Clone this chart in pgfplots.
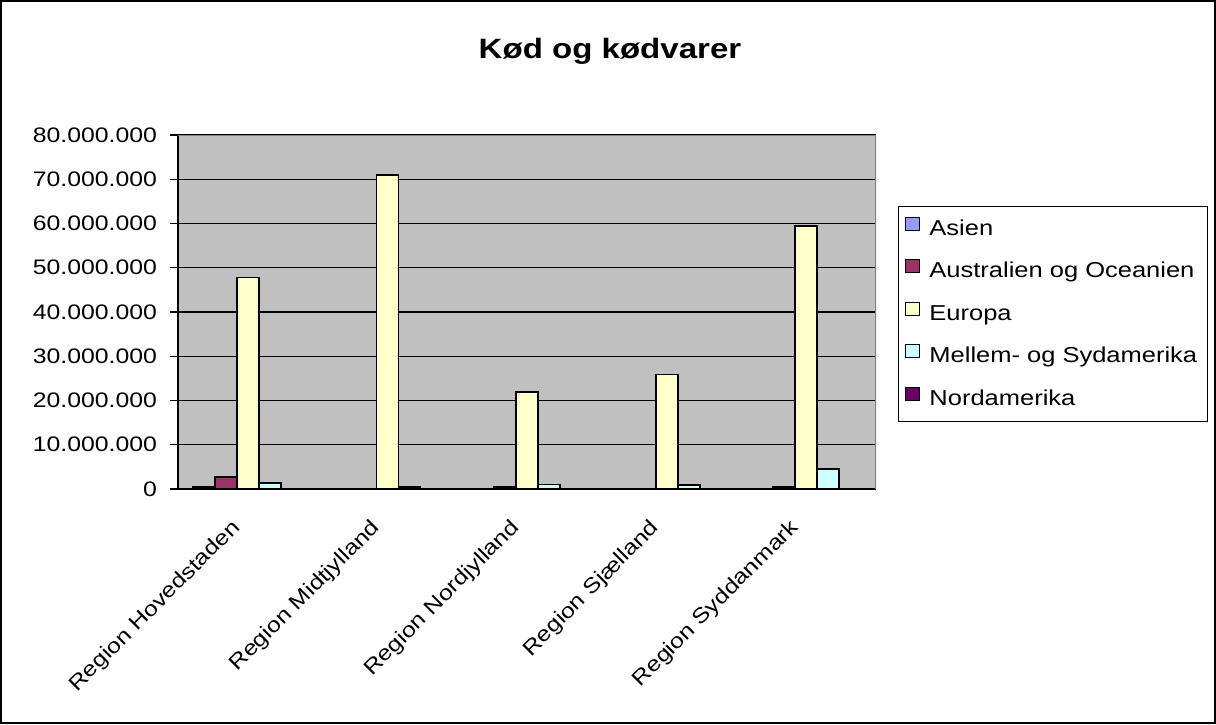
\documentclass[border=0pt]{standalone}
\usepackage{pgfplots}
\pgfplotsset{compat=1.18}
\usepackage{fontspec}
\setmainfont{Liberation Sans}[FakeStretch=1.18]

\definecolor{asien}{HTML}{9999FF}
\definecolor{austral}{HTML}{993366}
\definecolor{europa}{HTML}{FFFFCC}
\definecolor{mellem}{HTML}{CCFFFF}
\definecolor{nordam}{HTML}{660066}
\definecolor{plotbg}{HTML}{C0C0C0}
\definecolor{plotedge}{HTML}{808080}

\begin{document}
\begin{tikzpicture}
\useasboundingbox (-89pt,-117.5pt) rectangle (519pt,244.5pt);
\draw[line width=1pt] (-88.5pt,-117pt) rectangle (518.5pt,244pt);
\node[anchor=base,font=\fontsize{14}{16}\selectfont\bfseries] at (216pt,215pt) {Kød og kødvarer};

\begin{axis}[
  at={(0pt,0pt)}, anchor=south west,
  scale only axis,
  width=349pt, height=177pt,
  ybar=0pt, bar width=11pt,
  xmin=-0.5, xmax=4.5,
  ymin=0, ymax=80000000,
  axis x line*=bottom, axis y line*=left,
  axis line style={black, line width=0.6pt},
  axis background/.style={fill=plotbg},
  tick align=outside,
  xtick={0,1,2,3,4},
  xticklabels={Region Hovedstaden, Region Midtjylland, Region Nordjylland, Region Sjælland, Region Syddanmark},
  xtick style={draw=none},
  minor xtick={-0.5,0.5,...,4.5},
  minor tick length=4pt,
  minor x tick style={black, line width=0.6pt},
  ytick={0,10000000,20000000,30000000,40000000,50000000,60000000,70000000,80000000},
  major tick length=4pt,
  ytick style={black, line width=0.6pt},
  ymajorgrids,
  grid style={black, line width=0.6pt},
  scaled y ticks=false,
  /pgf/number format/.cd, fixed, 1000 sep={.}, assume math mode=true, /pgfplots/.cd,
  tick label style={font=\fontsize{10.5}{12}\selectfont},
  yticklabel style={xshift=-3pt},
  xticklabel style={rotate=45, anchor=east, xshift=-10pt, yshift=-6pt},
  every axis plot/.append style={draw=black, line width=0.9pt},
  legend style={at={(1.0315,0.7994)}, anchor=north west, draw=black, line width=0.5pt,
    font=\fontsize{10.8}{12}\selectfont, inner xsep=3.5pt, inner ysep=5pt,
    row sep=9pt, column sep=3pt,
    nodes={inner xsep=1.5pt, inner ysep=0pt, text height=8pt, text depth=3pt}},
  legend cell align=left,
  legend image code/.code={\draw[#1, draw=black, line width=0.5pt] (0pt,0pt) rectangle (7pt,6.5pt);},
]
\draw[plotedge, line width=0.6pt] (rel axis cs:0,1) -- (rel axis cs:1,1) -- (rel axis cs:1,0);

% Asien
\addplot[fill=asien] coordinates {(0,500000)};
% Australien og Oceanien
\addplot[fill=austral] coordinates {(0,2700000) (2,500000) (4,500000)};
% Europa
\addplot[fill=europa] coordinates {(0,47800000) (1,70900000) (2,21900000) (3,25900000) (4,59500000)};
% Mellem- og Sydamerika
\addplot[fill=mellem] coordinates {(0,1300000) (1,500000) (2,1000000) (3,900000) (4,4500000)};
% Nordamerika
\addplot[fill=nordam] coordinates {(0,0)};
\legend{Asien, Australien og Oceanien, Europa, Mellem- og Sydamerika, Nordamerika}
\end{axis}
\end{tikzpicture}
\end{document}
